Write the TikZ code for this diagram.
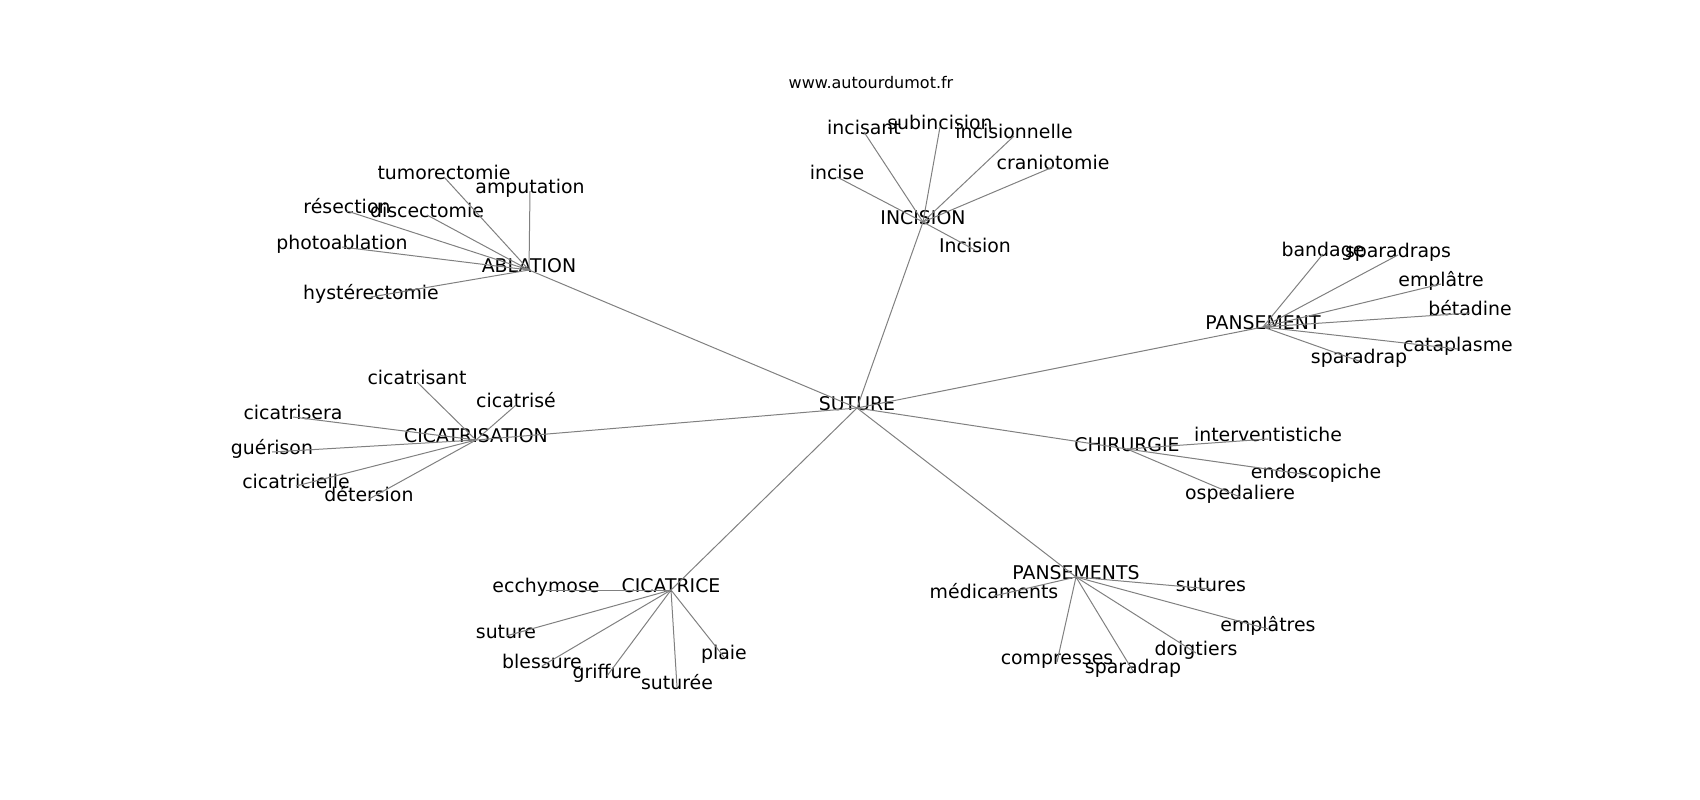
\documentclass[tikz,border=0pt]{standalone}
\usepackage{fontspec}
\setmainfont{DejaVu Sans}
\begin{document}
\begin{tikzpicture}[x=1pt,y=-1pt,
    word/.style={inner sep=0pt,text height=0.6em,text depth=0.1em,font=\fontsize{18.9}{22}\selectfont},
    link/.style={gray,line width=1pt}]
  \useasboundingbox (0,0) rectangle (1700,800);
  \node[inner sep=0pt,font=\fontsize{16}{19}\selectfont] (site) at (871,83) {www.autourdumot.fr};
  % hubs
  \node[word] (suture) at (857,408) {SUTURE};
  \node[word] (ablation) at (529,270) {ABLATION};
  \node[word] (incision) at (923,222) {INCISION};
  \node[word] (pansement) at (1263,327) {PANSEMENT};
  \node[word] (cicatrisation) at (476,440) {CICATRISATION};
  \node[word] (chirurgie) at (1127,449) {CHIRURGIE};
  \node[word] (cicatrice) at (671,590) {CICATRICE};
  \node[word] (pansements) at (1076,577) {PANSEMENTS};
  % ablation
  \node[word] (tumorectomie) at (444,177) {tumorectomie};
  \node[word] (amputation) at (530,191) {amputation};
  \node[word] (resection) at (347,211) {résection};
  \node[word] (discectomie) at (427,215) {discectomie};
  \node[word] (photoablation) at (342,247) {photoablation};
  \node[word] (hysterectomie) at (371,297) {hystérectomie};
  % incision
  \node[word] (incisant) at (864,132) {incisant};
  \node[word] (subincision) at (940,127) {subincision};
  \node[word] (incisionnelle) at (1014,136) {incisionnelle};
  \node[word] (craniotomie) at (1053,167) {craniotomie};
  \node[word] (incise) at (837,177) {incise};
  \node[word] (incisionb) at (975,250) {Incision};
  % pansement
  \node[word] (bandage) at (1323,254) {bandage};
  \node[word] (sparadraps) at (1398,255) {sparadraps};
  \node[word] (emplatre) at (1441,284) {emplâtre};
  \node[word] (betadine) at (1470,313) {bétadine};
  \node[word] (cataplasme) at (1458,349) {cataplasme};
  \node[word] (sparadrapa) at (1359,361) {sparadrap};
  % cicatrisation
  \node[word] (cicatrisant) at (417,382) {cicatrisant};
  \node[word] (cicatrise) at (516,405) {cicatrisé};
  \node[word] (cicatrisera) at (293,417) {cicatrisera};
  \node[word] (guerison) at (272,452) {guérison};
  \node[word] (cicatricielle) at (296,486) {cicatricielle};
  \node[word] (detersion) at (369,499) {détersion};
  % chirurgie
  \node[word] (interventistiche) at (1268,439) {interventistiche};
  \node[word] (endoscopiche) at (1316,476) {endoscopiche};
  \node[word] (ospedaliere) at (1240,497) {ospedaliere};
  % cicatrice
  \node[word] (ecchymose) at (546,590) {ecchymose};
  \node[word] (sutureb) at (506,636) {suture};
  \node[word] (blessure) at (542,666) {blessure};
  \node[word] (griffure) at (607,676) {griffure};
  \node[word] (suturee) at (677,687) {suturée};
  \node[word] (plaie) at (724,657) {plaie};
  % pansements
  \node[word] (medicaments) at (994,596) {médicaments};
  \node[word] (sutures) at (1211,589) {sutures};
  \node[word] (emplatres) at (1268,629) {emplâtres};
  \node[word] (doigtiers) at (1196,653) {doigtiers};
  \node[word] (compresses) at (1057,662) {compresses};
  \node[word] (sparadrapb) at (1133,671) {sparadrap};
  % edges
  \foreach \h in {ablation,incision,pansement,cicatrisation,chirurgie,cicatrice,pansements}
    \draw[link] (suture.center) -- (\h.center);
  \foreach \w in {tumorectomie,amputation,resection,discectomie,photoablation,hysterectomie}
    \draw[link] (ablation.center) -- (\w.center);
  \foreach \w in {incisant,subincision,incisionnelle,craniotomie,incise,incisionb}
    \draw[link] (incision.center) -- (\w.center);
  \foreach \w in {bandage,sparadraps,emplatre,betadine,cataplasme,sparadrapa}
    \draw[link] (pansement.center) -- (\w.center);
  \foreach \w in {cicatrisant,cicatrise,cicatrisera,guerison,cicatricielle,detersion}
    \draw[link] (cicatrisation.center) -- (\w.center);
  \foreach \w in {interventistiche,endoscopiche,ospedaliere}
    \draw[link] (chirurgie.center) -- (\w.center);
  \foreach \w in {ecchymose,sutureb,blessure,griffure,suturee,plaie}
    \draw[link] (cicatrice.center) -- (\w.center);
  \foreach \w in {medicaments,sutures,emplatres,doigtiers,compresses,sparadrapb}
    \draw[link] (pansements.center) -- (\w.center);
\end{tikzpicture}
\end{document}
